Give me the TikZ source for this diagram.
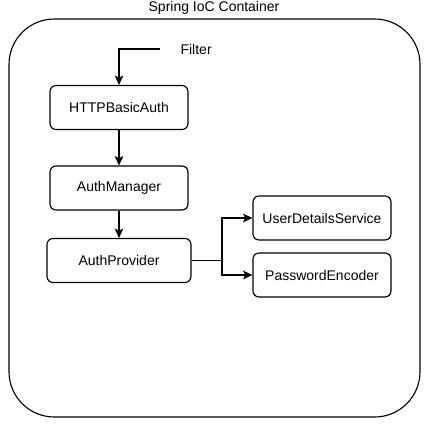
\documentclass[tikz,border=0pt]{standalone}
\usepackage{fontspec}
\setmainfont{Liberation Sans}
\usetikzlibrary{arrows.meta}

\begin{document}
\begin{tikzpicture}[x=0.75pt,y=0.75pt,yscale=-1,xscale=1,
    font=\fontsize{10.5}{12.5}\selectfont, line width=0.85pt,
    box/.style={draw, rounded corners=4.5pt, inner sep=0pt, minimum width=103.5pt, minimum height=33pt},
    flow/.style={-{Stealth[length=7pt,width=6.5pt,inset=1.5pt]}}]
    \useasboundingbox (0,0) rectangle (428,425);

    %Rounded Rect [container]
    \draw  [rounded corners=34pt]  (9,19) rectangle (420,417) ;
    % Text Node
    \draw (214,8) node [inner sep=0.75pt] (title)  {Spring IoC Container};

    % Boxes
    \node [box] (basic) at (119,107.5) {HTTPBasicAuth};
    \node [box] (mgr) at (119,188) {AuthManager};
    \node [box, minimum width=108pt] (prov) at (119,260.5) {AuthProvider};
    \node [box] (uds) at (322,218) {UserDetailsService};
    \node [box] (pwd) at (322,275) {PasswordEncoder};

    % Text Node
    \draw (179,49) node [anchor=west,inner sep=0.75pt] (filter)  {Filter};
    \coordinate (filterstart) at (160,49);
    \coordinate (split) at (222,260.5);

    %Connectors
    \draw [flow]  (filterstart) -| (basic.north) ;
    \draw [flow]  (basic) -- (mgr) ;
    \draw [flow]  (mgr) -- (prov) ;
    \draw [flow]  (prov.east) -- (split) |- (uds.west) ;
    \draw [flow]  (split) |- (pwd.west) ;

\end{tikzpicture}
\end{document}
